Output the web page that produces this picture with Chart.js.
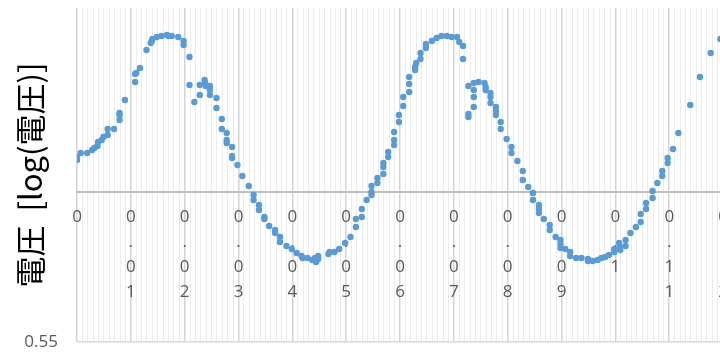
<!DOCTYPE html>
<html>
<head>
<meta charset="utf-8">
<script src="https://cdn.jsdelivr.net/npm/chart.js@4/dist/chart.umd.min.js"></script>
<style>
  html, body { margin: 0; padding: 0; background: #fff; overflow: hidden; }
  #chart { display: block; }
</style>
</head>
<body>
<canvas id="chart" width="760" height="352"></canvas>
<script>
// time (x) and log voltage (y)
const timeValues = [
  0.0000, 0.0000, 0.0007, 0.0019, 0.0028, 0.0032, 0.0038, 0.0039, 0.0046, 0.0049,
  0.0057, 0.0057, 0.0069, 0.0079, 0.0079, 0.0079, 0.0089, 0.0108, 0.0108, 0.0110,
  0.0117, 0.0129, 0.0137, 0.0139, 0.0140, 0.0148, 0.0157, 0.0167, 0.0170, 0.0176,
  0.0188, 0.0198, 0.0198, 0.0209, 0.0209, 0.0218, 0.0228, 0.0228, 0.0237, 0.0238,
  0.0239, 0.0247, 0.0247, 0.0247, 0.0259, 0.0259, 0.0269, 0.0269, 0.0278, 0.0278,
  0.0278, 0.0288, 0.0288, 0.0288, 0.0298, 0.0307, 0.0319, 0.0328, 0.0328, 0.0338,
  0.0338, 0.0348, 0.0348, 0.0357, 0.0368, 0.0368, 0.0377, 0.0377, 0.0389, 0.0399,
  0.0408, 0.0417, 0.0419, 0.0428, 0.0437, 0.0442, 0.0444, 0.0448, 0.0448, 0.0467,
  0.0469, 0.0478, 0.0487, 0.0498, 0.0508, 0.0518, 0.0518, 0.0529, 0.0529, 0.0538,
  0.0547, 0.0547, 0.0547, 0.0558, 0.0558, 0.0569, 0.0569, 0.0569, 0.0578, 0.0578,
  0.0589, 0.0589, 0.0589, 0.0598, 0.0598, 0.0606, 0.0606, 0.0617, 0.0617, 0.0617,
  0.0628, 0.0628, 0.0630, 0.0638, 0.0638, 0.0648, 0.0648, 0.0659, 0.0668, 0.0677,
  0.0687, 0.0696, 0.0706, 0.0710, 0.0717, 0.0717, 0.0727, 0.0727, 0.0727, 0.0737,
  0.0737, 0.0737, 0.0737, 0.0746, 0.0757, 0.0759, 0.0759, 0.0768, 0.0768, 0.0768,
  0.0778, 0.0778, 0.0778, 0.0787, 0.0787, 0.0798, 0.0807, 0.0807, 0.0818, 0.0828,
  0.0828, 0.0838, 0.0847, 0.0847, 0.0858, 0.0858, 0.0858, 0.0867, 0.0878, 0.0878,
  0.0889, 0.0898, 0.0898, 0.0898, 0.0907, 0.0916, 0.0916, 0.0927, 0.0937, 0.0949,
  0.0949, 0.0958, 0.0967, 0.0974, 0.0981, 0.0988, 0.0998, 0.0998, 0.1007, 0.1009,
  0.1009, 0.1019, 0.1019, 0.1028, 0.1038, 0.1047, 0.1047, 0.1057, 0.1057, 0.1069,
  0.1069, 0.1078, 0.1087, 0.1087, 0.1097, 0.1097, 0.1107, 0.1117, 0.1139, 0.1157,
  0.1177, 0.1195
];

const logVoltage = [
  0.732, 0.735, 0.739, 0.739, 0.742, 0.744, 0.746, 0.750, 0.752, 0.755,
  0.757, 0.763, 0.763, 0.772, 0.777, 0.779, 0.792, 0.810, 0.818, 0.819,
  0.824, 0.842, 0.849, 0.851, 0.853, 0.855, 0.856, 0.857, 0.856, 0.856,
  0.855, 0.851, 0.847, 0.835, 0.807, 0.790, 0.797, 0.807, 0.812, 0.809,
  0.806, 0.806, 0.802, 0.797, 0.794, 0.784, 0.773, 0.763, 0.759, 0.752,
  0.749, 0.745, 0.736, 0.734, 0.727, 0.716, 0.706, 0.697, 0.692, 0.687,
  0.682, 0.675, 0.673, 0.666, 0.662, 0.659, 0.655, 0.650, 0.646, 0.643,
  0.639, 0.636, 0.634, 0.634, 0.632, 0.634, 0.630, 0.636, 0.633, 0.638,
  0.640, 0.640, 0.643, 0.649, 0.655, 0.665, 0.673, 0.675, 0.683, 0.692,
  0.697, 0.700, 0.706, 0.709, 0.714, 0.718, 0.725, 0.729, 0.735, 0.740,
  0.747, 0.752, 0.760, 0.770, 0.777, 0.786, 0.795, 0.800, 0.808, 0.815,
  0.822, 0.825, 0.829, 0.833, 0.839, 0.844, 0.848, 0.851, 0.854, 0.856,
  0.856, 0.855, 0.855, 0.850, 0.846, 0.833, 0.806, 0.778, 0.775, 0.809,
  0.802, 0.795, 0.785, 0.810, 0.809, 0.805, 0.802, 0.799, 0.795, 0.789,
  0.785, 0.781, 0.777, 0.770, 0.763, 0.753, 0.745, 0.739, 0.731, 0.721,
  0.712, 0.705, 0.699, 0.692, 0.687, 0.683, 0.679, 0.673, 0.667, 0.662,
  0.655, 0.652, 0.648, 0.644, 0.643, 0.640, 0.636, 0.634, 0.634, 0.633,
  0.631, 0.631, 0.632, 0.634, 0.635, 0.637, 0.640, 0.643, 0.649, 0.642,
  0.645, 0.646, 0.652, 0.659, 0.665, 0.670, 0.678, 0.683, 0.689, 0.694,
  0.701, 0.709, 0.716, 0.721, 0.729, 0.734, 0.743, 0.759, 0.787, 0.815,
  0.839, 0.853
];

const tickLabels = ['0', '0.01', '0.02', '0.03', '0.04', '0.05', '0.06', '0.07', '0.08', '0.09', '0.1', '0.11', '0.12'];
const yTickValues = [0.55];
const yTickLabels = ['0.55'];
const yTitle = '電圧  [log(電圧)]';

const points = timeValues.map((t, i) => ({ x: t, y: logVoltage[i] }));

const config = {
  type: 'scatter',
  data: {
    datasets: [{
      data: points,
      backgroundColor: '#5b9bd5',
      borderWidth: 0,
      pointRadius: 3.2,
    }],
  },
  options: {
    responsive: false,
    animation: false,
    devicePixelRatio: 1,
    layout: { padding: { top: 8, bottom: 10, left: 0, right: 10 } },
    plugins: { legend: { display: false }, tooltip: { enabled: false } },
    scales: {
      x: {
        type: 'linear',
        min: 0,
        max: 0.125,
        position: { y: 0.70 },
        afterBuildTicks: (scale) => {
          const t = [];
          for (let k = 0; k <= 125; k++) t.push({ value: k / 1000 });
          scale.ticks = t;
        },
        afterFit: (scale) => { scale.paddingLeft = 0; scale.paddingRight = 0; },
        ticks: {
          autoSkip: false,
          maxRotation: 0,
          minRotation: 0,
          padding: 13,
          color: '#595959',
          font: { family: 'Open Sans', size: 17, lineHeight: '25px' },
          callback: (v, i) => (i % 10 === 0 ? tickLabels[i / 10].split('') : ''),
        },
        grid: {
          drawTicks: false,
          color: (c) => (c.index % 10 === 0 ? '#d4d4d4' : '#ececec'),
          lineWidth: (c) => (c.index % 10 === 0 ? 1.5 : 1),
        },
        border: { color: '#bfbfbf', width: 2 },
      },
      y: {
        min: 0.55,
        max: 0.884,
        afterBuildTicks: (scale) => { scale.ticks = yTickValues.map((v) => ({ value: v })); },
        afterFit: (scale) => { scale.width = 77; scale.paddingTop = 0; scale.paddingBottom = 0; },
        ticks: {
          padding: 19,
          color: '#595959',
          font: { family: 'Open Sans', size: 17 },
          callback: (v, i) => yTickLabels[i],
        },
        grid: { drawTicks: false, color: '#d9d9d9', lineWidth: 1.5 },
        border: { display: false },
        title: {
          display: true,
          text: yTitle,
          color: '#000',
          font: { family: '"Noto Sans CJK JP", sans-serif', size: 31 },
          padding: { top: 12, bottom: 0 },
        },
      },
    },
  },
};

new Chart(document.getElementById('chart'), config);
</script>
</body>
</html>
